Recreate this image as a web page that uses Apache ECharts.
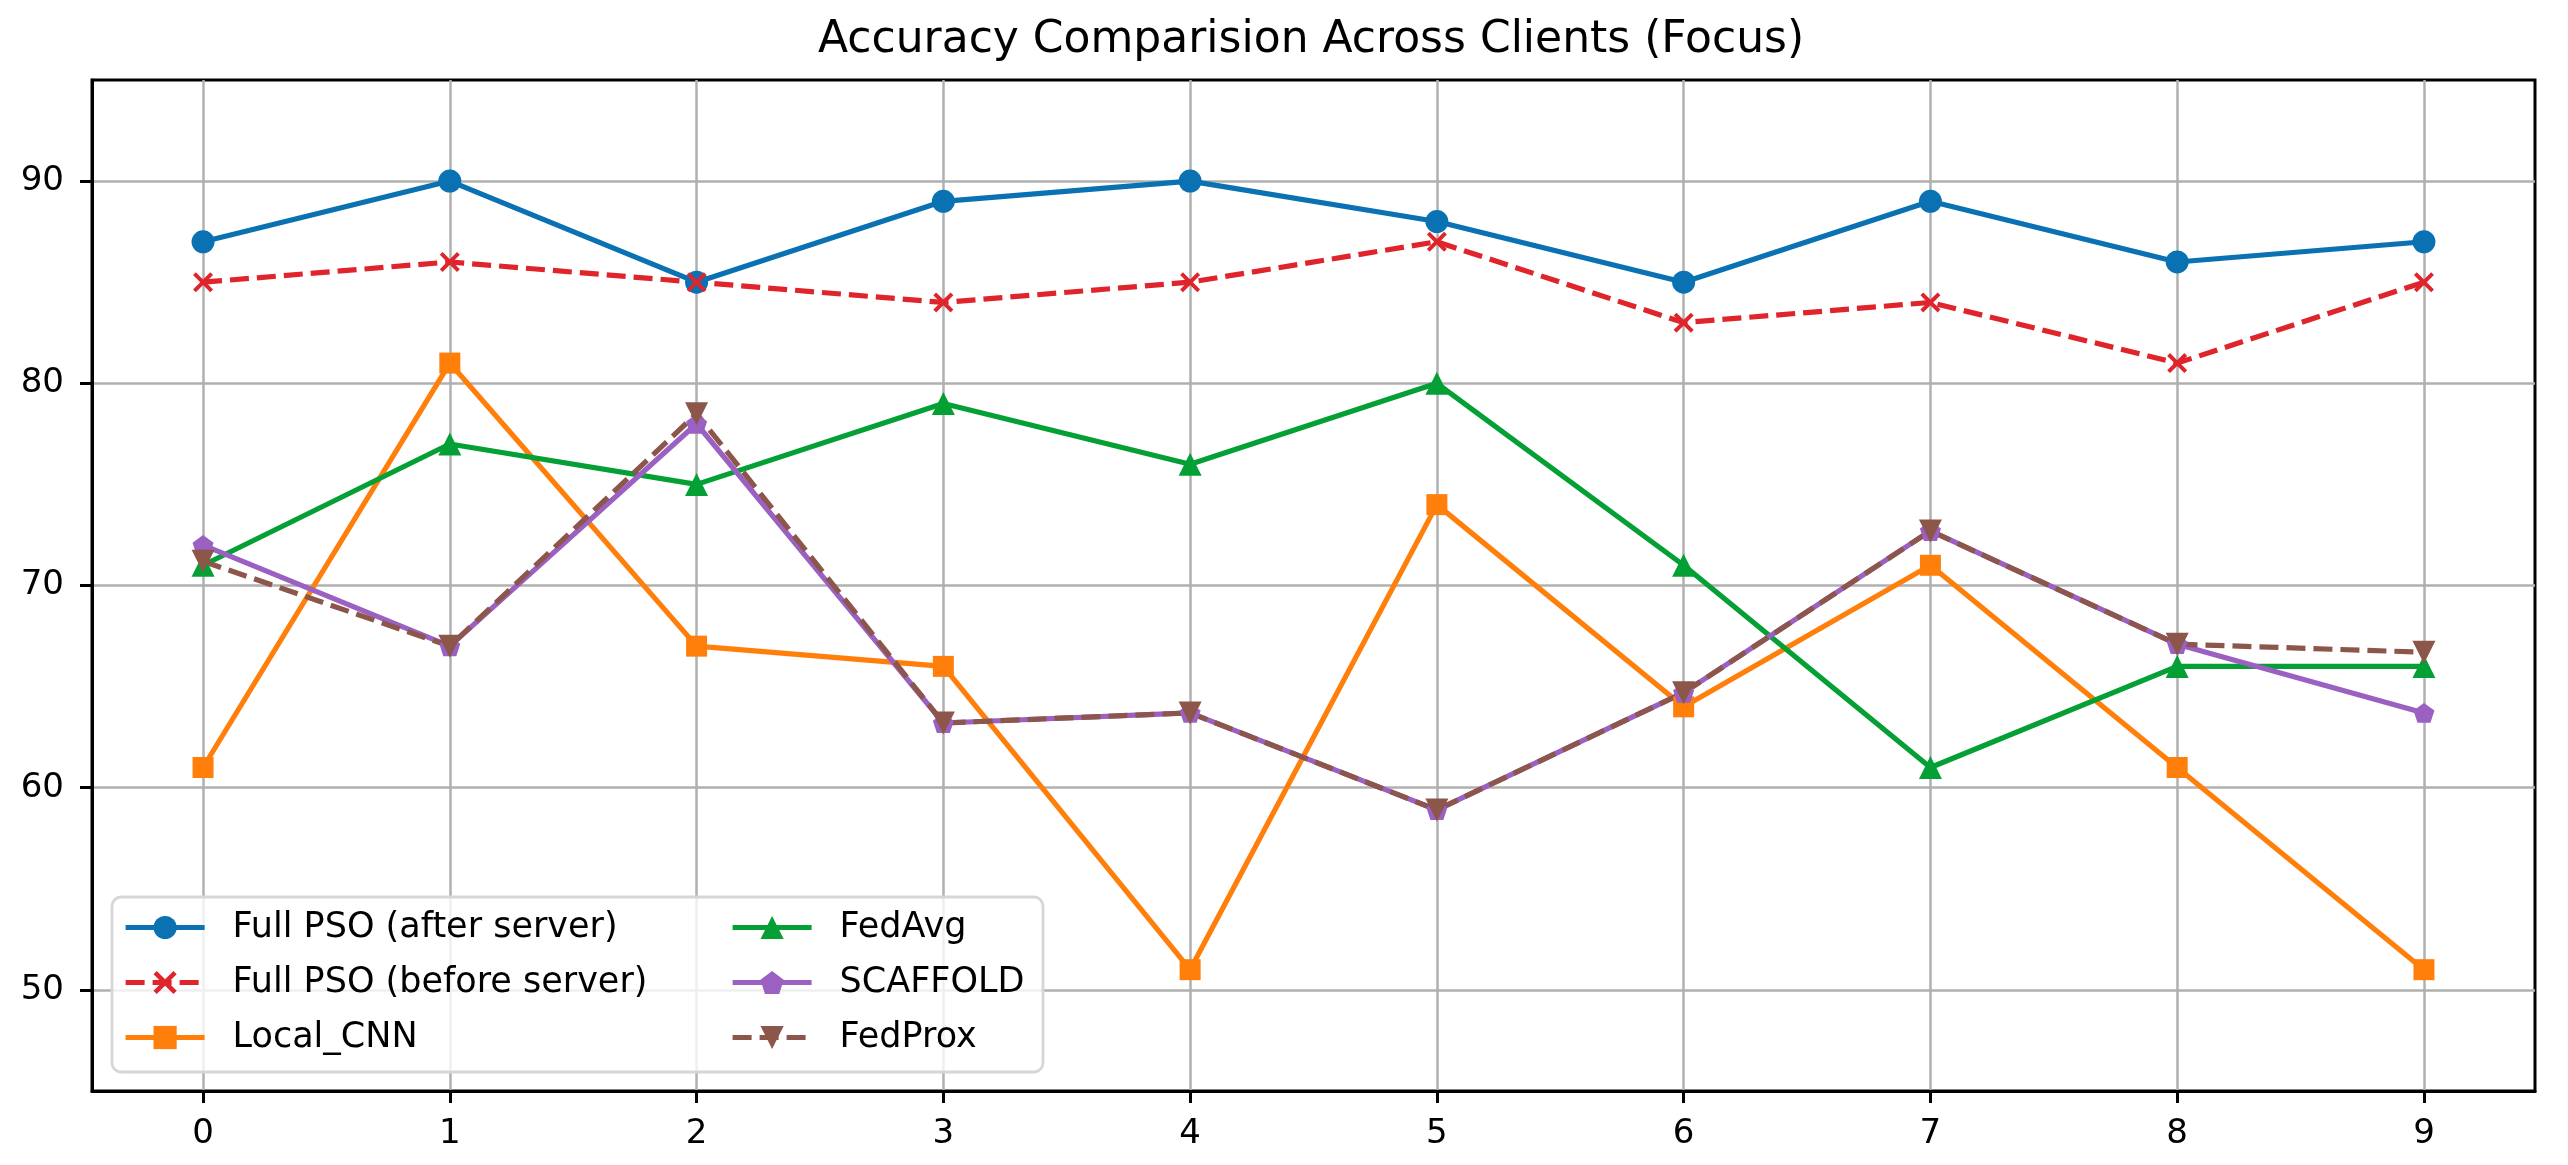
<!DOCTYPE html>
<html>
<head>
<meta charset="utf-8">
<title>Accuracy Comparision Across Clients (Focus)</title>
<script src="https://cdn.jsdelivr.net/npm/echarts@6/dist/echarts.min.js"></script>
<style>
    html, body { margin: 0; padding: 0; background: #ffffff; }
    #chart { width: 2568px; height: 1165px; }
</style>
</head>
<body>
<div id="chart"></div>
<script>
// --- Veriler ---
const clients = [0, 1, 2, 3, 4, 5, 6, 7, 8, 9];
const yTicks = [50, 60, 70, 80, 90];

const fullPsoAfter = [87, 90, 85, 89, 90, 88, 85, 89, 86, 87];
const fullPsoBefore = [85, 86, 85, 84, 85, 87, 83, 84, 81, 85];
const localCnn = [61, 81, 67, 66, 51, 74, 64, 71, 61, 51];
const fedAvg = [71, 77, 75, 79, 76, 80, 71, 61, 66, 66];
const scaffold = [72, 67, 78, 63.2, 63.7, 58.9, 64.7, 72.7, 67.1, 63.7];
const fedProx = [71.2, 67, 78.5, 63.2, 63.7, 58.9, 64.7, 72.7, 67.1, 66.7];

const seriesNames = ['Full PSO (after server)', 'Full PSO (before server)', 'Local_CNN', 'FedAvg', 'SCAFFOLD', 'FedProx'];

// matplotlib benzeri işaretler
const xMarker = 'path://M0,1.4L1.4,0L5,3.6L8.6,0L10,1.4L6.4,5L10,8.6L8.6,10L5,6.4L1.4,10L0,8.6L3.6,5Z';
const pentagon = 'path://M0,-1L0.951,-0.309L0.588,0.809L-0.588,0.809L-0.951,-0.309Z';

const FONT = '"DejaVu Sans", sans-serif';
const LW = 5.2;
const DASH = [19, 8];

function pairs(values) {
    return clients.map((c, i) => [c, values[i]]);
}

function lineSeries(name, values, color, symbol, size, dashed, extra) {
    return Object.assign({
        name: name,
        type: 'line',
        data: pairs(values),
        symbol: symbol,
        symbolSize: size,
        symbolKeepAspect: true,
        showAllSymbol: true,
        color: color,
        lineStyle: { color: color, width: LW, type: dashed ? DASH : 'solid' },
        itemStyle: { color: color, borderWidth: 0 },
        emphasis: { disabled: true },
        animation: false,
        z: 2
    }, extra || {});
}

const chart = echarts.init(document.getElementById('chart'), null, { renderer: 'canvas' });

// iki sütunlu legend için ortak ayarlar
const legendBase = {
    orient: 'vertical',
    top: 910,
    padding: 0,
    itemWidth: 79,
    itemHeight: 29,
    itemGap: 20,
    lineStyle: { width: LW },
    textStyle: { fontFamily: FONT, fontSize: 35, color: '#000000', padding: [0, 0, 0, 23] },
    selectedMode: false
};

const option = {
    backgroundColor: '#ffffff',
    animation: false,
    textStyle: { fontFamily: FONT },
    // başlık, çizim alanının ortasına (x≈1314) hizalı
    title: {
        text: 'Accuracy Comparision Across Clients (Focus)',
        left: 818,
        top: 19,
        padding: 0,
        textStyle: { fontFamily: FONT, fontSize: 44, fontWeight: 'normal', color: '#000000' }
    },
    grid: {
        left: 92, right: 33, top: 80, bottom: 74,
        show: true, borderColor: '#000000', borderWidth: 3, backgroundColor: 'transparent'
    },
    xAxis: {
        type: 'value',
        min: -0.45,
        max: 9.45,
        axisLine: { show: true, onZero: false, lineStyle: { color: '#000000', width: 3 } },
        axisTick: { show: true, length: 12, lineStyle: { color: '#000000', width: 3 }, customValues: clients },
        axisLabel: { customValues: clients, margin: 26, fontFamily: FONT, fontSize: 34, color: '#000000' },
        splitLine: { show: true, lineStyle: { color: '#b0b0b0', width: 2.5 } }
    },
    yAxis: {
        type: 'value',
        min: 45,
        max: 95,
        axisLine: { show: true, onZero: false, lineStyle: { color: '#000000', width: 3 } },
        axisTick: { show: true, length: 12, lineStyle: { color: '#000000', width: 3 }, customValues: yTicks },
        axisLabel: { customValues: yTicks, margin: 28, fontFamily: FONT, fontSize: 34, color: '#000000' },
        splitLine: { show: true, lineStyle: { color: '#b0b0b0', width: 2.5 } }
    },
    legend: [
        Object.assign({}, legendBase, { left: 123, data: seriesNames.slice(0, 3) }),
        Object.assign({}, legendBase, { left: 730, data: seriesNames.slice(3) })
    ],
    // legend kutusu (yarı saydam beyaz, yuvarlak köşeli)
    graphic: [{
        type: 'rect',
        z: 3,
        shape: { x: 112, y: 897, width: 931, height: 175, r: 9 },
        style: { fill: 'rgba(255,255,255,0.8)', stroke: '#d6d6d6', lineWidth: 2.8 },
        silent: true
    }],
    series: [
        lineSeries(seriesNames[0], fullPsoAfter, '#0a72b2', 'circle', 23, false),
        lineSeries(seriesNames[1], fullPsoBefore, '#e0242c', xMarker, 20, true),
        lineSeries(seriesNames[2], localCnn, '#ff7f0a', 'rect', 21, false),
        lineSeries(seriesNames[3], fedAvg, '#05a035', 'triangle', 23, false),
        lineSeries(seriesNames[4], scaffold, '#9a60c2', pentagon, 21, false),
        lineSeries(seriesNames[5], fedProx, '#8c564b', 'triangle', 23, true, { symbolRotate: 180 })
    ]
};

chart.setOption(option);
window.addEventListener('resize', function () {
    chart.resize();
});
</script>
</body>
</html>
